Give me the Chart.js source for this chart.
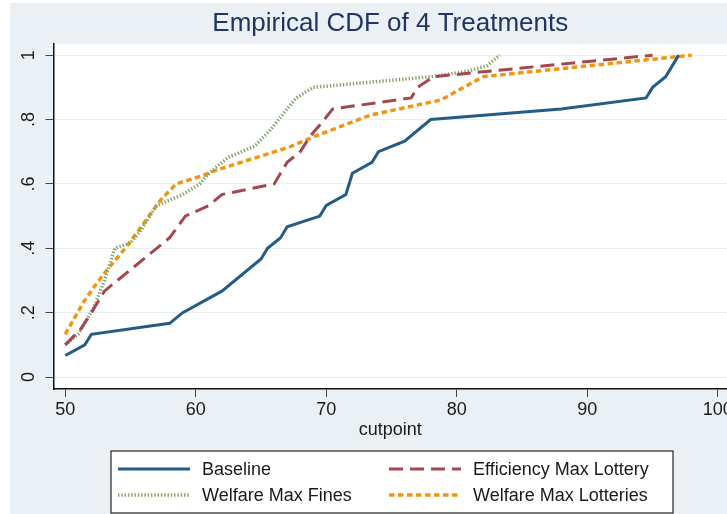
<!DOCTYPE html>
<html>
<head>
<meta charset="utf-8">
<script src="https://cdn.jsdelivr.net/npm/chart.js@4.4.0/dist/chart.umd.min.js"></script>
<style>
  html, body { margin: 0; padding: 0; background: #fff; }
  #wrap { position: relative; width: 727px; height: 514px; }
</style>
</head>
<body>
<div id="wrap"><canvas id="cdfChart"></canvas></div>
<script>
// values
const xTicks = [50, 60, 70, 80, 90, 100];
const yTicks = [0, 0.2, 0.4, 0.6, 0.8, 1];
const yTickLabels = ['0', '.2', '.4', '.6', '.8', '1'];

const seriesNames = ['Baseline', 'Efficiency Max Lottery', 'Welfare Max Fines', 'Welfare Max Lotteries'];

const baselineX = [50, 51.5, 52, 58, 59, 62, 65, 65.5, 66.5, 67, 69.5, 70, 71.5, 72, 73.5, 74, 76, 78, 88, 94.5, 95, 96, 97];
const baselineY = [0.067, 0.1, 0.133, 0.167, 0.2, 0.267, 0.367, 0.4, 0.433, 0.467, 0.5, 0.533, 0.567, 0.633, 0.667, 0.7, 0.733, 0.8, 0.833, 0.867, 0.9, 0.933, 1];

const effLotteryX = [50, 51.2, 52, 53, 58, 59.2, 61, 62, 66, 67, 68, 68.8, 69.5, 70.5, 76.5, 77, 78.2, 95];
const effLotteryY = [0.1, 0.15, 0.2, 0.267, 0.433, 0.5, 0.533, 0.567, 0.6, 0.667, 0.7, 0.75, 0.783, 0.833, 0.867, 0.9, 0.933, 1];

const welfFinesX = [50, 51, 52.2, 53, 53.8, 55, 55.7, 57, 59, 60.3, 61, 62.5, 64.5, 65.7, 67, 67.7, 69, 78, 80.8, 82.3, 83.3];
const welfFinesY = [0.1, 0.133, 0.217, 0.3, 0.4, 0.417, 0.45, 0.533, 0.567, 0.6, 0.633, 0.683, 0.717, 0.767, 0.833, 0.867, 0.9, 0.933, 0.95, 0.967, 1];

const welfLotteriesX = [50, 51.4, 52.2, 53.2, 54.7, 56.2, 57.3, 58.5, 60.6, 61.6, 67.2, 69, 73.4, 78.7, 79.2, 82, 98];
const welfLotteriesY = [0.133, 0.233, 0.28, 0.333, 0.405, 0.488, 0.55, 0.6, 0.627, 0.643, 0.715, 0.746, 0.814, 0.86, 0.87, 0.933, 1];

function pts(xs, ys) {
    return xs.map((x, i) => ({ x: x, y: ys[i] }));
}

const FONT = "'Liberation Sans', Arial, sans-serif";

const styles = [
    { color: '#245c88', dash: [], width: 3 },
    { color: '#a5474f', dash: [14, 7], width: 3 },
    { color: '#88a36c', dash: [1.4, 1.9], width: 3.5 },
    { color: '#f0960f', dash: [5.5, 3.5], width: 3.5 }
];

// background + legend box, drawn like the Stata graph
const stataFrame = {
    id: 'stataFrame',
    beforeDraw(chart) {
        const ctx = chart.ctx;
        const a = chart.chartArea;
        ctx.save();
        ctx.fillStyle = '#ffffff';
        ctx.fillRect(0, 0, chart.width, chart.height);
        ctx.fillStyle = '#eaf0f3';
        ctx.fillRect(10, 3, chart.width - 10, chart.height - 3);
        ctx.fillStyle = '#ffffff';
        ctx.fillRect(a.left, a.top, a.right - a.left, a.bottom - a.top);
        ctx.restore();
    },
    afterDraw(chart) {
        const ctx = chart.ctx;
        ctx.save();
        ctx.fillStyle = '#ffffff';
        ctx.fillRect(111, 451, 562, 62);
        ctx.strokeStyle = '#333333';
        ctx.lineWidth = 1.3;
        ctx.strokeRect(111, 451, 562, 62);

        const cols = [118, 389];
        const rows = [469, 495];
        ctx.font = '18px ' + FONT;
        ctx.textBaseline = 'middle';
        ctx.textAlign = 'left';
        seriesNames.forEach((name, i) => {
            const cx = cols[i % 2];
            const cy = rows[Math.floor(i / 2)];
            const st = styles[i];
            ctx.beginPath();
            ctx.setLineDash(st.dash);
            ctx.strokeStyle = st.color;
            ctx.lineWidth = st.width;
            ctx.moveTo(cx, cy);
            ctx.lineTo(cx + 72, cy);
            ctx.stroke();
            ctx.setLineDash([]);
            ctx.fillStyle = '#1a1a1a';
            ctx.fillText(name, cx + 84, cy + 1);
        });
        ctx.restore();
    }
};

const ctx = document.getElementById('cdfChart').getContext('2d');

new Chart(ctx, {
    type: 'line',
    data: {
        datasets: [
            { label: seriesNames[0], data: pts(baselineX, baselineY) },
            { label: seriesNames[1], data: pts(effLotteryX, effLotteryY) },
            { label: seriesNames[2], data: pts(welfFinesX, welfFinesY) },
            { label: seriesNames[3], data: pts(welfLotteriesX, welfLotteriesY) }
        ].map((ds, i) => Object.assign(ds, {
            borderColor: styles[i].color,
            borderDash: styles[i].dash,
            borderWidth: styles[i].width,
            pointRadius: 0,
            fill: false,
            tension: 0,
            borderCapStyle: 'butt'
        }))
    },
    options: {
        responsive: true,
        maintainAspectRatio: false,
        animation: false,
        layout: { padding: { top: 0, left: 0, right: 0, bottom: 73 } },
        plugins: {
            legend: { display: false },
            tooltip: { enabled: false },
            title: {
                display: true,
                fullSize: false,
                text: 'Empirical CDF of 4 Treatments',
                color: '#1f3564',
                font: { family: FONT, size: 26, weight: 'normal' },
                padding: { top: 8, bottom: 5 }
            }
        },
        scales: {
            x: {
                type: 'linear',
                min: 49.1,
                max: 100.7,
                afterBuildTicks: s => { s.ticks = xTicks.map(v => ({ value: v })); },
                afterFit: s => { s.height = 52; s.paddingLeft = 0; s.paddingRight = 0; },
                grid: { drawOnChartArea: false, drawTicks: true, tickLength: 8, tickColor: '#444' },
                border: { color: '#111', width: 1.5 },
                ticks: {
                    color: '#1a1a1a',
                    padding: 2,
                    maxRotation: 0,
                    font: { family: FONT, size: 18 }
                },
                title: {
                    display: true,
                    text: 'cutpoint',
                    color: '#1a1a1a',
                    font: { family: FONT, size: 18 },
                    padding: { top: 0, bottom: 0 }
                }
            },
            y: {
                type: 'linear',
                min: -0.037,
                max: 1.034,
                afterBuildTicks: s => { s.ticks = yTicks.map(v => ({ value: v })); },
                afterFit: s => { s.width = 53.5; s.paddingTop = 0; s.paddingBottom = 0; },
                grid: { color: '#e8eff2', lineWidth: 1, drawTicks: true, tickLength: 8, tickColor: '#444' },
                border: { color: '#111', width: 1.5 },
                ticks: {
                    color: '#1a1a1a',
                    minRotation: 90,
                    maxRotation: 90,
                    crossAlign: 'center',
                    padding: 9,
                    font: { family: FONT, size: 18 },
                    callback: function(value) {
                        const i = yTicks.indexOf(value);
                        return i >= 0 ? yTickLabels[i] : '';
                    }
                }
            }
        }
    },
    plugins: [stataFrame]
});
</script>
</body>
</html>
